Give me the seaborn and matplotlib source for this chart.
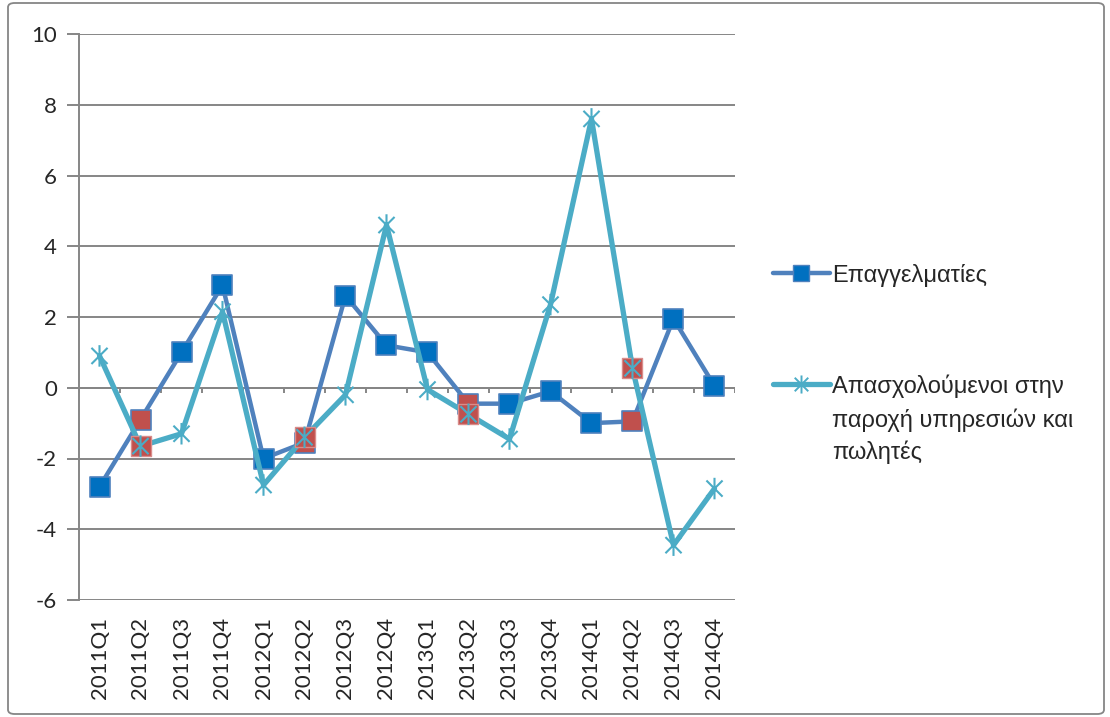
import numpy as np
import pandas as pd
import matplotlib
matplotlib.use("Agg")
import matplotlib.pyplot as plt
from matplotlib.lines import Line2D
from matplotlib.path import Path
from matplotlib.patches import FancyBboxPatch
import seaborn as sns

# Quarterly series (% change)
quarters = ["2011Q1", "2011Q2", "2011Q3", "2011Q4",
            "2012Q1", "2012Q2", "2012Q3", "2012Q4",
            "2013Q1", "2013Q2", "2013Q3", "2013Q4",
            "2014Q1", "2014Q2", "2014Q3", "2014Q4"]
professionals = [-2.8, -0.9, 1.0, 2.9,
                 -2.0, -1.55, 2.6, 1.2,
                 1.0, -0.45, -0.45, -0.1,
                 -1.0, -0.95, 1.95, 0.05]
services_sales = [0.9, -1.65, -1.3, 2.15,
                  -2.75, -1.4, -0.2, 4.6,
                  -0.05, -0.75, -1.45, 2.35,
                  7.6, 0.55, -4.45, -2.85]
series_names = ["Επαγγελματίες",
                "Απασχολούμενοι στην\nπαροχή υπηρεσιών και\nπωλητές"]
y_ticks = [-6, -4, -2, 0, 2, 4, 6, 8, 10]

BLUE_LINE = "#4F81BD"
BLUE_FILL = "#0070C0"
TEAL = "#4BACC6"
RED = "#C0504D"
GRID = "#868686"

sns.set_theme(style="white")
plt.rcParams["font.family"] = ["Lato", "DejaVu Sans"]
plt.rcParams["axes.unicode_minus"] = False

df = pd.DataFrame({
    "quarter": quarters,
    "pos": np.arange(len(quarters)),
    "prof": professionals,
    "serv": services_sales,
})
df["q2"] = df["quarter"].str.endswith("Q2")

# asterisk marker: vertical stroke plus an X
star = Path([(0, -1), (0, 1), (-0.75, -0.75), (0.75, 0.75), (-0.75, 0.75), (0.75, -0.75)],
            [Path.MOVETO, Path.LINETO, Path.MOVETO, Path.LINETO, Path.MOVETO, Path.LINETO])

fig = plt.figure(figsize=(11.10, 7.17), dpi=100)
ax = fig.add_axes([79 / 1110, 1 - 600 / 717, (735 - 79) / 1110, (600 - 34) / 717])

ax.set_ylim(-6, 10)
ax.set_xlim(-0.5, len(quarters) - 0.5)
ax.set_yticks(y_ticks)
ax.yaxis.grid(True, color=GRID, linewidth=1.4)
ax.set_axisbelow(True)

# category axis crossing at zero, with tick marks between categories
ax.axhline(0, color=GRID, linewidth=1.4, zorder=1)
ax.vlines(np.arange(len(quarters) + 1) - 0.5, -0.16, 0, color=GRID, linewidth=1.4, zorder=1)

# series 1: line then square markers (Q2 points in red)
sns.lineplot(data=df, x="pos", y="prof", ax=ax, color=BLUE_LINE, linewidth=3.2,
             sort=False, zorder=3, legend=False)
sns.scatterplot(data=df[~df["q2"]], x="pos", y="prof", ax=ax, marker="s", s=190,
                color=BLUE_FILL, edgecolor=BLUE_LINE, linewidth=1.2, zorder=4, legend=False)
sns.scatterplot(data=df[df["q2"]], x="pos", y="prof", ax=ax, marker="s", s=190,
                color=RED, edgecolor=BLUE_LINE, linewidth=1.2, zorder=4, legend=False)

# series 2: line, red squares under the Q2 points, asterisk markers
sns.lineplot(data=df, x="pos", y="serv", ax=ax, color=TEAL, linewidth=3.8,
             sort=False, zorder=5, legend=False)
sns.scatterplot(data=df[df["q2"]], x="pos", y="serv", ax=ax, marker="s", s=190,
                color=RED, edgecolor="#D98C8A", linewidth=1.0, zorder=6, legend=False)
sns.scatterplot(data=df, x="pos", y="serv", ax=ax, marker=star, s=240,
                facecolor="none", edgecolor=TEAL, linewidth=1.5, zorder=7, legend=False)

ax.set_xticks(df["pos"])
ax.set_xticklabels(quarters, rotation=90, fontsize=16)
ax.tick_params(axis="x", length=0, pad=12)
ax.tick_params(axis="y", length=9, width=1.4, color=GRID, labelsize=16, pad=7, left=True)
ax.set_xlabel("")
ax.set_ylabel("")
for side in ["top", "right", "bottom"]:
    ax.spines[side].set_visible(False)
ax.spines["left"].set_color(GRID)
ax.spines["left"].set_linewidth(1.4)

# legend, one entry per block; the handle sits beside the first label line
legend_font = {"family": ["Liberation Sans", "DejaVu Sans"], "size": 17}
h1 = Line2D([], [], color=BLUE_LINE, linewidth=3.2, marker="s", markersize=12,
            markerfacecolor=BLUE_FILL, markeredgecolor=BLUE_LINE)
h2 = Line2D([], [], color=TEAL, linewidth=3.8, marker=star, markersize=13,
            markerfacecolor="none", markeredgecolor=TEAL, markeredgewidth=1.4)
leg_kw = dict(frameon=False, handlelength=2.4, handletextpad=0.1, borderaxespad=0,
              borderpad=0, prop=legend_font)
label2_lines = series_names[1].split("\n")
leg1 = fig.legend([h1], [series_names[0]], loc="center left",
                  bbox_to_anchor=(773 / 1110, 1 - 275 / 717), **leg_kw)
leg2 = fig.legend([h2], [label2_lines[0]], loc="center left",
                  bbox_to_anchor=(773 / 1110, 1 - 386 / 717), **leg_kw)

fig.canvas.draw()
first = leg2.get_texts()[0].get_window_extent()
fig.text(first.x0 / fig.bbox.width, 1 - 408 / 717, "\n".join(label2_lines[1:]),
         ha="left", va="top", fontdict=legend_font, linespacing=1.5,
         transform=fig.transFigure)

# chart area border
fig.patches.append(FancyBboxPatch((8 / 1110, 3 / 717), 1096 / 1110, 711 / 717,
                                  boxstyle="round,pad=0,rounding_size=0.006",
                                  transform=fig.transFigure, facecolor="none",
                                  edgecolor=GRID, linewidth=1.3))

fig.savefig("out.png", dpi=100)
